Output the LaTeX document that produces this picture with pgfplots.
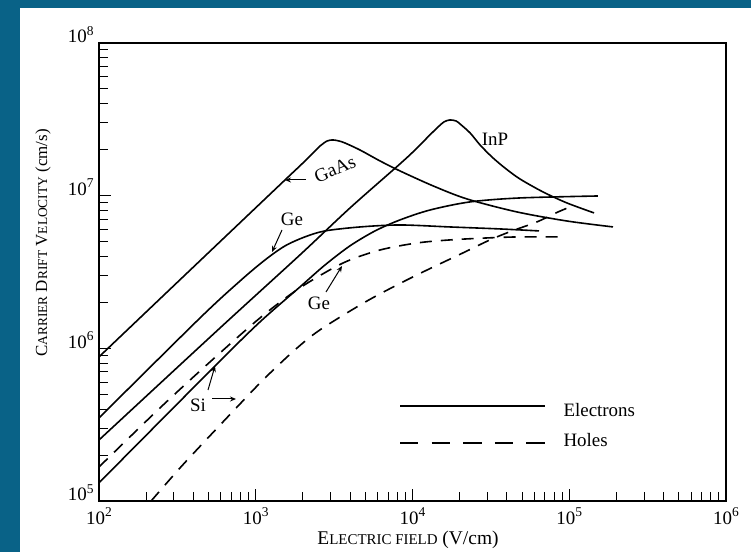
\documentclass[border=0pt]{standalone}
\usepackage{fontspec}
\setmainfont{Liberation Serif}
\usepackage{pgfplots}
\pgfplotsset{compat=1.18}
\usetikzlibrary{arrows.meta}
\definecolor{framecol}{RGB}{9,98,135}
\newcommand\smc[1]{{\fontsize{13.5}{14}\selectfont #1}}
\newcommand\smx[1]{{\fontsize{15}{15}\selectfont #1}}
\newcommand\tl[1]{10\raisebox{0.42em}{\fontsize{13.5}{13.5}\selectfont #1}}
\begin{document}
\begin{tikzpicture}
\begin{scope}[x=1bp,y=1bp]
\useasboundingbox (0,0) rectangle (751,552);
\fill[framecol] (0,0) rectangle (751,552);
\fill[white] (20,0) rectangle (751,544);
\end{scope}
\begin{axis}[
  at={(99bp,51bp)}, anchor=south west, scale only axis,
  width=627bp, height=458bp,
  xmode=log, ymode=log,
  xmin=1e2, xmax=1e6, ymin=1e5, ymax=1e8,
  tick align=inside, tick pos=left,
  xtick={1e2,1e3,1e4,1e5,1e6},
  xticklabels={\tl{2},\tl{3},\tl{4},\tl{5},\tl{6}},
  ytick={1e5,1e6,1e7,1e8},
  yticklabels={\tl{5},\tl{6},\tl{7},\tl{8}},
  minor xtick={200,300,400,500,600,700,800,900,2000,3000,4000,5000,6000,7000,8000,9000,2e4,3e4,4e4,5e4,6e4,7e4,8e4,9e4,2e5,3e5,4e5,5e5,6e5,7e5,8e5,9e5},
  minor ytick={2e5,3e5,4e5,5e5,6e5,7e5,8e5,9e5,2e6,3e6,4e6,5e6,6e6,7e6,8e6,9e6,2e7,3e7,4e7,5e7,6e7,7e7,8e7,9e7},
  major tick length=12bp, minor tick length=9bp,
  axis line style={line width=1.8bp},
  every tick/.style={black, line width=1bp},
  tick label style={font=\fontsize{19}{19}\selectfont},
  yticklabel style={anchor=base east, xshift=-2bp},
  xticklabel style={anchor=north, yshift=-3bp},
  every axis plot/.append style={line width=1.6bp, black, smooth, tension=0.5},
]
% GaAs electrons
\addplot[black] coordinates {(100,8.79e5) (398,3.39e6) (1538,1.268e7) (1914,1.567e7) (2286,1.875e7) (2570,2.113e7) (2851,2.280e7) (3112,2.317e7) (3396,2.280e7) (3707,2.213e7) (4624,1.991e7) (6209,1.687e7) (8318,1.452e7) (13520,1.159e7) (22280,9.51e6) (46450,7.82e6) (96830,6.82e6) (190100,6.24e6)};
% InP electrons
\addplot[black] coordinates {(100,2.51e5) (574,1.321e6) (1914,4.09e6) (3990,8.30e6) (8318,1.614e7) (10370,1.991e7) (12360,2.388e7) (14320,2.773e7) (15880,3.041e7) (17340,3.133e7) (18970,3.083e7) (20090,2.951e7) (23280,2.577e7) (26980,2.148e7) (32150,1.791e7) (38900,1.517e7) (48530,1.285e7) (68080,1.057e7) (96830,8.95e6) (143900,7.71e6)};
% Ge electrons
\addplot[black] coordinates {(100,3.50e5) (441,1.581e6) (794,2.761e6) (1146,3.793e6) (1538,4.688e6) (2061,5.370e6) (2767,5.875e6) (4624,6.237e6) (8318,6.427e6) (17340,6.237e6) (36140,6.053e6) (64120,5.875e6)};
% Si electrons
\addplot[black] coordinates {(100,1.315e5) (550,7.67e5) (1064,1.489e6) (1914,2.523e6) (2767,3.516e6) (3990,4.688e6) (5768,5.875e6) (8318,6.934e6) (12940,8.054e6) (23280,9.10e6) (48530,9.66e6) (152400,9.95e6)};
% Ge holes
\addplot[black, dash pattern=on 12bp off 9bp] coordinates {(100,1.671e5) (245,4.07e5) (511,8.15e5) (1064,1.581e6) (1914,2.489e6) (3606,3.622e6) (6209,4.406e6) (10690,4.898e6) (17340,5.129e6) (29850,5.284e6) (48530,5.370e6) (86100,5.370e6)};
% Si holes
\addplot[black, dash pattern=on 12bp off 9bp] coordinates {(215,1.0e5) (329,1.648e5) (489,2.553e5) (794,4.325e5) (1146,6.397e5) (1778,9.77e5) (2570,1.321e6) (5129,2.042e6) (10070,2.938e6) (20990,4.217e6) (31190,5.129e6) (43150,5.875e6) (62230,6.730e6) (84720,7.816e6) (101200,8.433e6)};
\end{axis}
\begin{scope}[x=1bp,y=1bp,font=\fontsize{19}{19}\selectfont, arr/.style={line width=1bp, -{Stealth[length=6bp,width=5bp]}}]
\node[rotate=23] at (335,383) {GaAs};
\draw[arr] (306,372) -- (285,372);
\node at (292,333) {Ge};
\draw[arr] (282,322) -- (272,300);
\node at (495,413) {InP};
\node at (319,249) {Ge};
\draw[arr] (326,260) -- (342,286);
\node at (198,147) {Si};
\draw[arr] (208,162) -- (215,186);
\draw[arr] (212,153) -- (236,153);
% legend
\draw[line width=1.6bp] (400,146) -- (545,146);
\node[anchor=base west] at (560,135) {Electrons};
\draw[line width=1.6bp, dash pattern=on 18.3bp off 13.3bp] (400,109) -- (545,109);
\node[anchor=base west] at (560,105) {Holes};
% axis labels
\node[rotate=90, font=\fontsize{17}{17}\selectfont] at (43,309) {C\smc{ARRIER} D\smc{RIFT} V\smc{ELOCITY} (cm/s)};
\node[font=\fontsize{19.5}{19.5}\selectfont] at (408,12) {E\smx{LECTRIC FIELD} (V/cm)};
\end{scope}
\end{tikzpicture}
\end{document}
